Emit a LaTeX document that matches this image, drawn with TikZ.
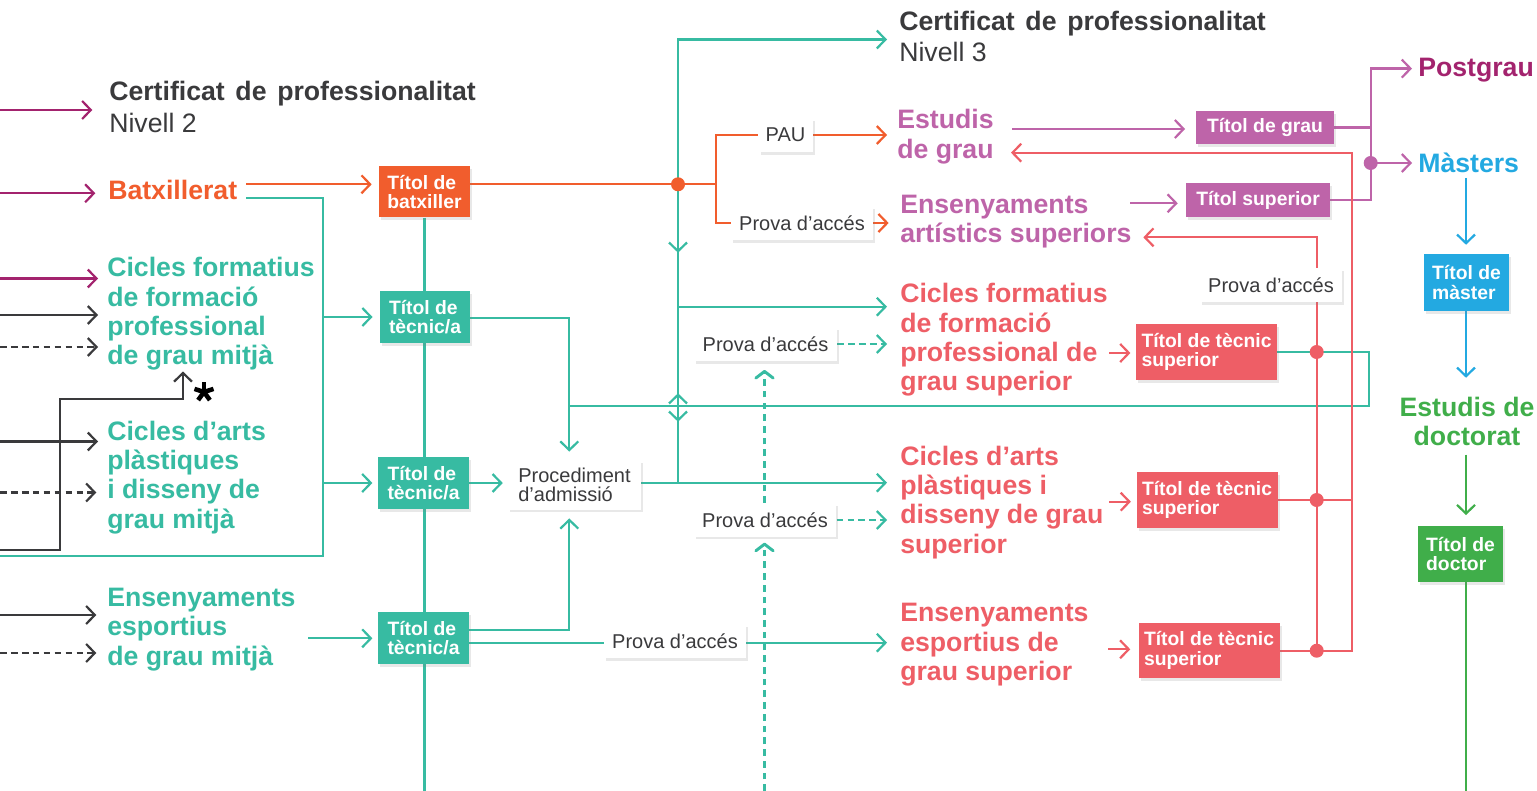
\documentclass[tikz,border=0pt]{standalone}
\usepackage{fontspec}
\setmainfont{Liberation Sans}
\usetikzlibrary{arrows.meta,shadows}
\definecolor{cteal}{HTML}{37BBA2}
\definecolor{corange}{HTML}{F15D2D}
\definecolor{cmag}{HTML}{A3236E}
\definecolor{cpurp}{HTML}{BE64A9}
\definecolor{cred}{HTML}{EE5E66}
\definecolor{cblue}{HTML}{23A9E1}
\definecolor{cgreen}{HTML}{40AE4A}
\definecolor{cdark}{HTML}{3A3A3C}
\pgfdeclarelayer{bg}
\pgfsetlayers{bg,main}
\newcommand\mleft[1]{\vtop{\halign{##\hfil\cr#1\crcr}}}
\newcommand\mcent[1]{\vtop{\halign{\hfil##\hfil\cr#1\crcr}}}
\begin{document}
\begin{tikzpicture}[x=0.75pt,y=-0.75pt,
 ln/.style={line width=1.65pt},
 arr/.style={-{Straight Barb[length=6.5pt,width=13.5pt]}},
 darr/.style={-{Straight Barb[length=5pt,width=13pt,round]}, line width=2.2pt, dash pattern=on 5pt off 3.8pt},
 dsh/.style={dash pattern=on 5pt off 3.2pt},
 ttl/.style={font=\fontsize{20}{22}\selectfont\bfseries, inner sep=0pt, anchor=base west},
 reg/.style={font=\fontsize{20}{22}\selectfont, inner sep=0pt, anchor=base west, text=cdark},
 shd/.style={drop shadow={shadow xshift=1.5pt,shadow yshift=-2pt,opacity=0.18}},
 tbox/.style={rectangle, fill=#1, text=white, font=\fontsize{14.5}{14.5}\selectfont\bfseries, align=left, inner sep=0pt, shd},
 lbox/.style={rectangle, fill=white, text=cdark, font=\fontsize{15}{14.5}\selectfont, align=left, inner sep=0pt, shd},
 sz/.style 2 args={minimum width=#1, minimum height=#2}
]
\useasboundingbox (0,0) rectangle (1537,791);

% ---------- text labels ----------
\node[ttl, text=cdark] (cert2) at (109,100.7) {Certificat\hspace{0.4em}de\hspace{0.4em}professionalitat};
\node[reg] (niv2) at (109,132.7) {Nivell 2};
\node[ttl, text=corange] (batx) at (108,199.5) {Batxillerat};
\node[ttl, text=cteal] (cfgm) at (107,277) {\mleft{Cicles formatius\cr de formació\cr professional\cr de grau mitjà}};
\node[ttl, text=cteal] (cagm) at (107,440) {\mleft{Cicles d’arts\cr plàstiques\cr i disseny de\cr grau mitjà}};
\node[ttl, text=cteal] (eegm) at (107,606.5) {\mleft{Ensenyaments\cr esportius\cr de grau mitjà}};

\node[ttl, text=cdark] (cert3) at (899,31) {Certificat\hspace{0.4em}de\hspace{0.4em}professionalitat};
\node[reg] (niv3) at (899,62) {Nivell 3};
\node[ttl, text=cpurp] (egrau) at (897,129) {\mleft{Estudis\cr de grau}};
\node[ttl, text=cpurp] (eart) at (900,213.3) {\mleft{Ensenyaments\cr artístics superiors}};
\node[ttl, text=cred] (cfgs) at (900,302.7) {\mleft{Cicles formatius\cr de formació\cr professional de\cr grau superior}};
\node[ttl, text=cred] (cags) at (900,465) {\mleft{Cicles d’arts\cr plàstiques i\cr disseny de grau\cr superior}};
\node[ttl, text=cred] (eegs) at (900,621.7) {\mleft{Ensenyaments\cr esportius de\cr grau superior}};
\node[ttl, text=cmag] (postgrau) at (1418,77) {Postgrau};
\node[ttl, text=cblue] (masters) at (1418,172.5) {Màsters};
\node[ttl, text=cgreen, anchor=base] (doct) at (1467,416) {\mcent{Estudis de\cr doctorat}};

% ---------- boxes ----------
\node[tbox=corange, sz={68.25pt}{38.25pt}] (bat) at (424.5,192) {Títol de\\batxiller};
\node[tbox=cteal, sz={67.5pt}{39pt}] (tec1) at (425,317) {Títol de\\tècnic/a};
\node[tbox=cteal, sz={68.25pt}{39pt}] (tec2) at (423.5,483) {Títol de\\tècnic/a};
\node[tbox=cteal, sz={68.25pt}{39pt}] (tec3) at (423.5,638) {Títol de\\tècnic/a};
\node[lbox, sz={99.75pt}{36.75pt}] (proc) at (574.5,485) {Procediment\\d’admissió};
\node[lbox, sz={40.5pt}{25.5pt}] (pau) at (785.5,135) {PAU};
\node[lbox, sz={106.5pt}{25.5pt}] (prova1) at (802,223) {Prova d’accés};
\node[lbox, sz={107pt}{25.5pt}] (prova2) at (765.5,344) {Prova d’accés};
\node[lbox, sz={107pt}{25pt}] (prova3) at (765,520) {Prova d’accés};
\node[lbox, sz={106.5pt}{25.5pt}] (prova4) at (675,641) {Prova d’accés};
\node[lbox, sz={106.5pt}{25.5pt}] (prova5) at (1271,285) {Prova d’accés};
\node[tbox=cpurp, sz={103.5pt}{24.75pt}] (tgrau) at (1265,127.5) {Títol de grau};
\node[tbox=cpurp, sz={108pt}{25.5pt}] (tsup) at (1258,200) {Títol superior};
\node[tbox=cred, sz={105.75pt}{42pt}] (tts1) at (1206.5,352) {Títol de tècnic\\superior};
\node[tbox=cred, sz={105.75pt}{42pt}] (tts2) at (1207,500) {Títol de tècnic\\superior};
\node[tbox=cred, sz={105.75pt}{41.25pt}] (tts3) at (1209,650.5) {Títol de tècnic\\superior};
\node[tbox=cblue, sz={63.75pt}{42.75pt}] (tmaster) at (1466.5,282.5) {Títol de\\màster};
\node[tbox=cgreen, sz={63.75pt}{42pt}] (tdoctor) at (1460.5,554) {Títol de\\doctor};

% ---------- asterisk mark ----------
\coordinate (star) at (204,392);
\foreach \a in {-90,-18,54,126,198}
  \draw[line width=3.4pt, black] (star) -- ++(\a:10);

% ---------- connectors ----------
\begin{pgfonlayer}{bg}
\fill[white] (0,0) rectangle (1537,791);
\coordinate (bot) at (0,791);
% left inputs
\coordinate (m1) at (0,110);
\coordinate (m2) at (0,193.3);
\coordinate (m3) at (0,278.5);
\coordinate (d1) at (0,315);
\coordinate (d2) at (0,347);
\coordinate (d3) at (0,550);
\coordinate (d4) at (0,441.5);
\coordinate (d5) at (0,492.5);
\coordinate (d6) at (0,615);
\coordinate (d7) at (0,653);
\draw[ln,cmag,arr,shorten >=12.5pt] (m1) -- (m1 -| cert2.west);
\draw[ln,cmag,arr,shorten >=9.5pt] (m2) -- (m2 -| batx.west);
\draw[ln,cmag,arr,shorten >=6.75pt] (m3) -- (m3 -| cfgm.west);
\draw[ln,cdark,arr,shorten >=6.75pt] (d1) -- (d1 -| cfgm.west);
\draw[ln,cdark,arr,dsh,shorten >=6.75pt] (d2) -- (d2 -| cfgm.west);
\draw[ln,cdark,arr] (d3) -- ++(60,0) -- ++(0,-151) -- ++(123,0) -- ++(0,-27.5);
\draw[ln,cdark,arr,shorten >=6.75pt] (d4) -- (d4 -| cagm.west);
\draw[ln,cdark,arr,dsh,shorten >=8pt] (d5) -- (d5 -| cagm.west);
\draw[ln,cdark,arr,shorten >=8pt] (d6) -- (d6 -| eegm.west);
\draw[ln,cdark,arr,dsh,shorten >=8pt] (d7) -- (d7 -| eegm.west);
% teal from Batxillerat
\coordinate (tb) at (246,198.3);
\coordinate (tj) at (323.3,198.3);
\coordinate (tl) at (0,556);
\draw[ln,cteal] (tb) -- (tj) |- (tl);
\draw[ln,cteal,arr,shorten >=5.4pt] (tj |- tec1.west) -- (tec1.west);
\draw[ln,cteal,arr,shorten >=4pt] (tj |- tec2.west) -- (tec2.west);
\coordinate (te) at (308.3,638.3);
\draw[ln,cteal,arr,shorten >=4pt] (te) -- (te -| tec3.west);
% orange
\coordinate (ob) at (246,184.3);
\coordinate (oj) at (716,184.3);
\draw[ln,corange,arr,shorten >=5.3pt] (ob) -- (ob -| bat.west);
\draw[ln,corange] (oj -| bat.east) -- (oj);
\draw[ln,corange] (oj) |- (pau.west);
\draw[ln,corange] (oj) |- (prova1.west);
\draw[ln,corange,arr,shorten >=7.5pt] (pau.east) -- (pau.east -| egrau.west);
\draw[ln,corange,arr,shorten >=8.5pt] (prova1.east) -- (prova1.east -| eart.west);
% teal trunk
\draw[ln,cteal] (bat.south) -- (bat.south |- bot);
\coordinate (p1) at (569.3,317.7);
\coordinate (p3) at (569.3,630);
\coordinate (p4) at (470,642.7);
\coordinate (p5) at (641,482.7);
\draw[ln,cteal,arr,shorten >=6.5pt] (p1 -| tec1.east) -- (p1) -- (p1 |- proc.north);
\draw[ln,cteal,arr,shorten >=3.75pt] (tec2.east) -- (tec2.east -| proc.west);
\draw[ln,cteal,arr,shorten >=6.5pt] (p3 -| tec3.east) -- (p3) -- (p3 |- proc.south);
\draw[ln,cteal,arr,shorten >=9.75pt] (p4 -| tec3.east) -- (p4 -| eegs.west);
\draw[ln,cteal,arr,shorten >=9.75pt] (p5 -| proc.east) -- (p5 -| cags.west);
\coordinate (vt) at (678,39.5);
\coordinate (vb) at (678,482.7);
\coordinate (vc) at (678,306.7);
\draw[ln,cteal,arr,shorten >=9pt] (vb) -- (vt) -- (vt -| cert3.west);
\draw[ln,cteal,arr,shorten >=9.75pt] (vc) -- (vc -| cfgs.west);
\draw[ln,cteal,arr] (678,236) -- (678,252.7);
\draw[ln,cteal,arr] (678,408) -- (678,393.3);
\draw[ln,cteal,arr] (678,406) -- (678,421.7);
\coordinate (q1) at (1369.3,405.7);
\coordinate (q2) at (569.3,405.7);
\draw[ln,cteal] (tts1.east) -| (q1) -- (q2);
\draw[ln,cteal,arr,dsh,shorten >=9.75pt] (prova2.east) -- (prova2.east -| cfgs.west);
\draw[ln,cteal,arr,dsh,shorten >=9.75pt] (prova3.east) -- (prova3.east -| cags.west);
\coordinate (dvb) at (764.5,791);
\draw[cteal,darr,shorten >=4.3pt] (dvb) -- (dvb |- prova3.south);
\draw[cteal,darr,shorten >=6.5pt] (dvb |- prova3.north) -- (dvb |- prova2.south);
\fill[corange] (vt |- oj) circle (5.25pt);
% purple
\coordinate (pg1) at (1012,129);
\coordinate (pg2) at (1130,203.3);
\coordinate (pv1) at (1370.7,68.6);
\coordinate (pv2) at (1370.7,163);
\draw[ln,cpurp,arr,shorten >=8pt] (pg1) -- (pg1 -| tgrau.west);
\draw[ln,cpurp,arr,shorten >=6pt] (pg2) -- (pg2 -| tsup.west);
\draw[ln,cpurp] (tgrau.east) -- (tgrau.east -| pv1);
\draw[ln,cpurp,arr,shorten >=4.5pt] (tsup.east) -| (pv1) -- (pv1 -| postgrau.west);
\draw[ln,cpurp,arr,shorten >=4.5pt] (pv2) -- (pv2 -| masters.west);
\fill[cpurp] (pv2) circle (5.25pt);
% red
\coordinate (ra1) at (1109,353);
\coordinate (ra2) at (1109,501.7);
\coordinate (ra3) at (1108,649.3);
\draw[ln,cred,arr,shorten >=4pt] (ra1) -- (ra1 -| tts1.west);
\draw[ln,cred,arr,shorten >=4pt] (ra2) -- (ra2 -| tts2.west);
\draw[ln,cred,arr,shorten >=6pt] (ra3) -- (ra3 -| tts3.west);
\coordinate (ro1) at (1352.3,152.7);
\coordinate (ro2) at (1352.3,650.7);
\coordinate (rt1) at (1011,152.7);
\draw[ln,cred,arr] (ro2 -| tts3.east) -- (ro2) -- (ro1) -- (rt1);
\draw[ln,cred] (tts2.east) -- (tts2.east -| ro1);
\coordinate (ri1) at (1316.7,237.3);
\coordinate (ri2) at (1316.7,650.7);
\coordinate (rt2) at (1143.3,237.3);
\draw[ln,cred,arr] (ri2) -- (ri1) -- (rt2);
\fill[cred] (ri1 |- tts1.east) circle (5.25pt);
\fill[cred] (ri1 |- tts2.east) circle (5.25pt);
\fill[cred] (ri2) circle (5.25pt);
% blue / green
\coordinate (gx) at (1466,791);
\draw[ln,cblue,arr,shorten <=3.7pt,shorten >=6.75pt] (gx |- masters.south) -- (gx |- tmaster.north);
\draw[ln,cblue,arr,shorten >=14pt] (gx |- tmaster.south) -- (gx |- doct.north);
\draw[ln,cgreen,arr,shorten <=6.5pt,shorten >=8pt] (gx |- doct.south) -- (gx |- tdoctor.north);
\draw[ln,cgreen] (gx |- tdoctor.south) -- (gx);
\end{pgfonlayer}
\end{tikzpicture}
\end{document}
